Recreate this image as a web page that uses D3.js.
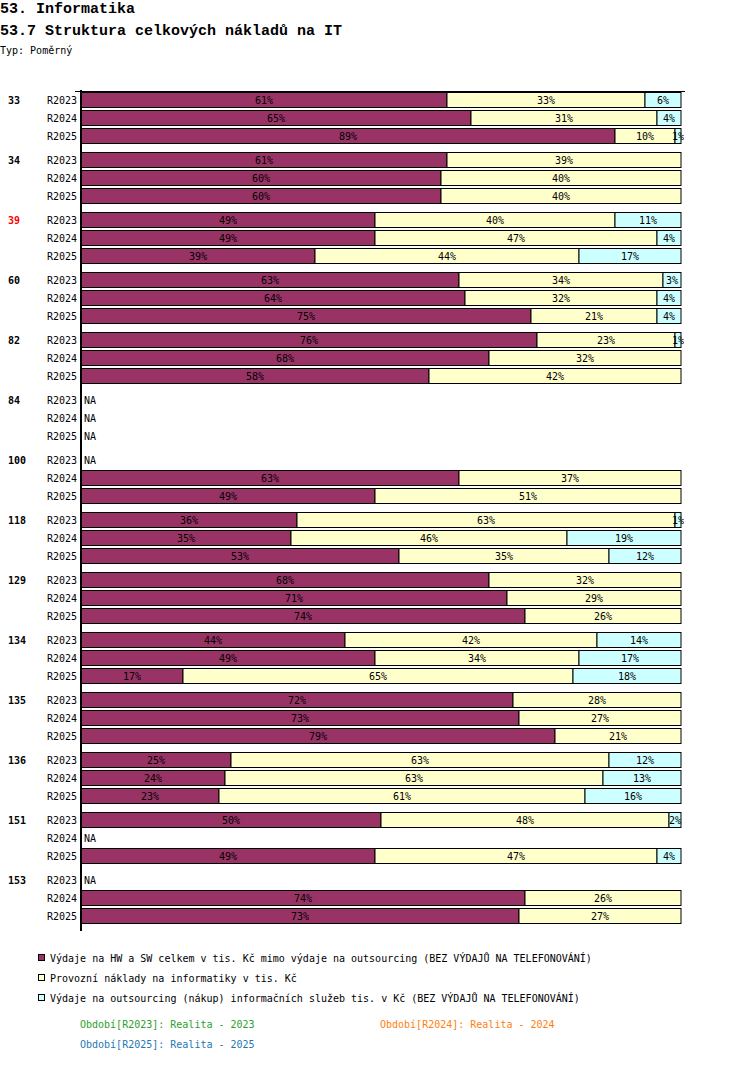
<!DOCTYPE html>
<html>
<head>
<meta charset="utf-8">
<script src="https://cdn.jsdelivr.net/npm/d3@7"></script>
<style>
body { margin: 0; background: #fff; }
svg text { font-family: "DejaVu Sans Mono", monospace; }
</style>
</head>
<body>
<div id="chart"></div>
<script>
// categories and periods
var groups = ["33", "34", "39", "60", "82", "84", "100", "118", "129", "134", "135", "136", "151", "153"];
var periods = ["R2023", "R2024", "R2025"];
var highlighted = ["39"];

// shares in % per group, one value per period (null = NA)
var hwsw = [
	[61, 65, 89], [61, 60, 60], [49, 49, 39], [63, 64, 75], [76, 68, 58],
	[null, null, null], [null, 63, 49], [36, 35, 53], [68, 71, 74], [44, 49, 17],
	[72, 73, 79], [25, 24, 23], [50, null, 49], [null, 74, 73]
];
var provoz = [
	[33, 31, 10], [39, 40, 40], [40, 47, 44], [34, 32, 21], [23, 32, 42],
	[null, null, null], [null, 37, 51], [63, 46, 35], [32, 29, 26], [42, 34, 65],
	[28, 27, 21], [63, 63, 61], [48, null, 47], [null, 26, 27]
];
var outsourcing = [
	[6, 4, 1], [0, 0, 0], [11, 4, 17], [3, 4, 4], [1, 0, 0],
	[null, null, null], [null, 0, 0], [1, 19, 12], [0, 0, 0], [14, 17, 18],
	[0, 0, 0], [12, 13, 16], [2, null, 4], [null, 0, 0]
];

var seriesNames = [
	"Výdaje na HW a SW celkem v tis. Kč mimo výdaje na outsourcing (BEZ VÝDAJŮ NA TELEFONOVÁNÍ)",
	"Provozní náklady na informatiky v tis. Kč",
	"Výdaje na outsourcing (nákup) informačních služeb tis. v Kč (BEZ VÝDAJŮ NA TELEFONOVÁNÍ)"
];
var seriesColors = ["#993366", "#ffffcc", "#ccffff"];
var periodNotes = ["Období[R2023]: Realita - 2023", "Období[R2024]: Realita - 2024", "Období[R2025]: Realita - 2025"];
var periodColors = ["#2ca02c", "#ff7f0e", "#1f77b4"];

var width = 750, height = 1082;
var svg = d3.select("#chart").append("svg")
	.attr("width", width)
	.attr("height", height);

// titles
svg.append("text").attr("x", 0).attr("y", 13)
	.style("font-family", "'Liberation Mono', monospace").style("font-size", "15px").style("font-weight", "bold")
	.text("53. Informatika");
svg.append("text").attr("x", 0).attr("y", 35)
	.style("font-family", "'Liberation Mono', monospace").style("font-size", "15px").style("font-weight", "bold")
	.text("53.7 Struktura celkových nákladů na IT");
svg.append("text").attr("x", 0).attr("y", 54)
	.style("font-size", "10px")
	.text("Typ: Poměrný");

var x = d3.scaleLinear().domain([0, 100]).range([81, 681]);
var yGroup = d3.scaleBand().domain(groups).range([91, 931]);
var yRow = d3.scaleBand().domain(periods).range([0, 54]).paddingInner(1 / 6).paddingOuter(1 / 12);

// build rows: one per group x period
var rows = [];
groups.forEach(function(g, gi) {
	periods.forEach(function(p, pi) {
		var vals = [hwsw[gi][pi], provoz[gi][pi], outsourcing[gi][pi]];
		var na = vals[0] === null;
		var segs = [];
		var start = 0;
		if (!na) {
			vals.forEach(function(v, si) {
				if (v > 0) segs.push({ x0: start, x1: start + v, value: v, serie: si });
				start += v;
			});
		}
		rows.push({ group: g, period: p, first: pi == 0, na: na, segs: segs,
			y: yGroup(g) + yRow(p) });
	});
});

var row = svg.selectAll(".row")
	.data(rows)
	.enter().append("g")
	.attr("class", "row")
	.attr("transform", function(d) { return "translate(0," + d.y + ")"; });

var bh = yRow.bandwidth();

row.selectAll("rect")
	.data(function(d) { return d.segs; })
	.enter().append("rect")
	.attr("x", function(d) { return x(d.x0); })
	.attr("y", 0)
	.attr("width", function(d) { return x(d.x1) - x(d.x0); })
	.attr("height", bh)
	.style("fill", function(d) { return seriesColors[d.serie]; })
	.style("stroke", "#000")
	.style("stroke-width", 1);

row.selectAll(".val")
	.data(function(d) { return d.segs; })
	.enter().append("text")
	.attr("class", "val")
	.attr("x", function(d) { return (x(d.x0) + x(d.x1)) / 2; })
	.attr("y", bh / 2 + 4)
	.attr("text-anchor", "middle")
	.style("font-size", "10px")
	.style("fill", "#000")
	.text(function(d) { return d.value + "%"; });

// period labels
row.append("text")
	.attr("x", 77)
	.attr("y", bh / 2 + 4)
	.attr("text-anchor", "end")
	.style("font-size", "10px")
	.text(function(d) { return d.period; });

row.filter(function(d) { return d.na; })
	.append("text")
	.attr("x", 84)
	.attr("y", bh / 2 + 4)
	.style("font-size", "10px")
	.text("NA");

// group labels
row.filter(function(d) { return d.first; })
	.append("text")
	.attr("x", 8)
	.attr("y", bh / 2 + 4)
	.style("font-size", "10px")
	.style("font-weight", "bold")
	.style("fill", function(d) { return highlighted.indexOf(d.group) >= 0 ? "#ff0000" : "#000"; })
	.text(function(d) { return d.group; });

// axis lines
svg.append("line")
	.attr("x1", 81).attr("x2", 81).attr("y1", 90).attr("y2", 931)
	.style("stroke", "#000").style("stroke-width", 2);
svg.append("line")
	.attr("x1", 75).attr("x2", 685).attr("y1", 91.5).attr("y2", 91.5)
	.style("stroke", "#000").style("stroke-width", 1);

// legend
var legend = svg.selectAll(".legend")
	.data(seriesNames)
	.enter().append("g")
	.attr("class", "legend")
	.attr("transform", function(d, i) { return "translate(0," + (958 + i * 20) + ")"; });
legend.append("rect")
	.attr("x", 38.5).attr("y", -3.5).attr("width", 6).attr("height", 6)
	.style("fill", function(d, i) { return seriesColors[i]; })
	.style("stroke", "#000");
legend.append("text")
	.attr("x", 50).attr("y", 4)
	.style("font-size", "10px")
	.text(function(d) { return d; });

svg.selectAll(".note")
	.data(periodNotes)
	.enter().append("text")
	.attr("class", "note")
	.attr("x", function(d, i) { return i == 1 ? 380 : 80; })
	.attr("y", function(d, i) { return i == 2 ? 1048 : 1028; })
	.style("font-size", "10px")
	.style("fill", function(d, i) { return periodColors[i]; })
	.text(function(d) { return d; });
</script>
</body>
</html>
